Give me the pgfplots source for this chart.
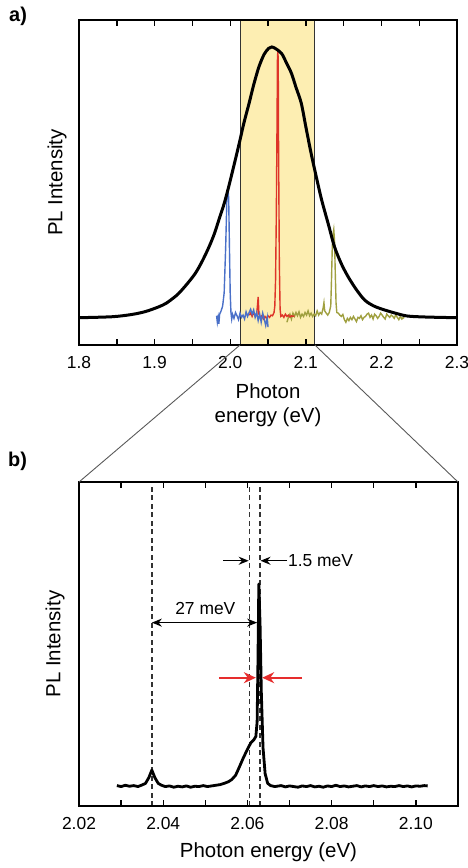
\documentclass[border=0pt]{standalone}
\usepackage{pgfplots}
\pgfplotsset{compat=1.18}
\usepackage{fontspec}
\setmainfont{Liberation Sans}
\usetikzlibrary{arrows.meta}
\definecolor{boxyellow}{RGB}{253,238,178}
\definecolor{specblue}{RGB}{74,112,200}
\definecolor{specred}{RGB}{222,52,40}
\definecolor{specolive}{RGB}{160,160,64}
\definecolor{arrred}{RGB}{230,45,45}
\newcommand{\labfont}{\fontsize{20.5}{24.6}\selectfont}
\newcommand{\tickfont}{\fontsize{17.5}{21}\selectfont}
\begin{document}
\begin{tikzpicture}
\path[use as bounding box] (0bp,0bp) rectangle (468bp,-868bp);
\pgfplotsset{
  myaxis/.style={
    scale only axis, ymin=0, ymax=1, ytick=\empty,
    axis line style={line width=2.4bp}, axis on top,
    tick align=inside, xtick pos=both, xticklabel pos=lower,
    major tick length=6bp, minor tick length=6bp,
    every tick/.style={black, line width=1.4bp},
    minor x tick num=1,
    xticklabel style={font=\tickfont, yshift=-8bp},
    label style={font=\labfont},
    ylabel={PL Intensity},
  }
}
% ---------------- panel a ----------------
\begin{axis}[myaxis, name=a, at={(79bp,-345bp)}, anchor=south west,
  width=378bp, height=325bp, xmin=1.8, xmax=2.3,
  xtick={1.8,1.9,2.0,2.1,2.2,2.3}, xticklabels={1.8,1.9,2.0,2.1,2.2,2.3},
  ylabel style={at={(axis description cs:-0.058,0.5)}, anchor=center},
  xlabel={Photon\\energy (eV)},
  xlabel style={at={(axis description cs:0.5,-0.185)}, anchor=center, align=center},
]
\addplot[fill=boxyellow, draw=black!80, line width=0.8bp] coordinates {(2.013,-0.01) (2.013,1.01) (2.112,1.01) (2.112,-0.01)} -- cycle;
\coordinate (zl) at (axis cs:2.013,0);
\coordinate (zr) at (axis cs:2.112,0);
\addplot[specolive, line width=1.4bp] coordinates {
(2.075,0.070)(2.077,0.085)(2.079,0.095)(2.081,0.080)(2.083,0.098)(2.085,0.088)(2.087,0.100)(2.089,0.090)(2.091,0.102)(2.093,0.085)(2.095,0.095)(2.097,0.088)(2.099,0.100)(2.101,0.092)(2.103,0.105)(2.105,0.090)(2.107,0.098)(2.109,0.088)(2.111,0.095)(2.113,0.090)(2.115,0.105)(2.117,0.092)(2.119,0.100)(2.121,0.095)(2.123,0.115)(2.124,0.130)(2.125,0.105)(2.127,0.098)(2.129,0.092)(2.131,0.100)(2.133,0.120)(2.134,0.200)(2.135,0.300)(2.136,0.340)(2.137,0.355)(2.138,0.320)(2.139,0.220)(2.140,0.130)(2.141,0.100)(2.143,0.098)(2.145,0.092)(2.147,0.088)(2.149,0.094)(2.151,0.078)(2.153,0.070)(2.155,0.082)(2.157,0.075)(2.159,0.085)(2.161,0.078)(2.163,0.088)(2.165,0.080)(2.167,0.072)(2.169,0.085)(2.171,0.082)(2.173,0.090)(2.175,0.078)(2.177,0.085)(2.179,0.088)(2.181,0.095)(2.183,0.098)(2.185,0.085)(2.187,0.092)(2.189,0.080)(2.191,0.095)(2.193,0.090)(2.195,0.082)(2.197,0.088)(2.199,0.098)(2.201,0.092)(2.203,0.085)(2.205,0.080)(2.207,0.095)(2.209,0.090)(2.211,0.085)(2.213,0.092)(2.215,0.088)(2.217,0.082)(2.219,0.093)(2.221,0.085)(2.223,0.078)(2.225,0.088)(2.227,0.080)(2.229,0.085)(2.230,0.082)};
\addplot[specred, line width=1.4bp] coordinates {
(2.025,0.092)(2.027,0.098)(2.029,0.088)(2.031,0.100)(2.033,0.090)(2.035,0.095)(2.036,0.120)(2.037,0.148)(2.038,0.095)(2.040,0.085)(2.042,0.090)(2.044,0.080)(2.046,0.088)(2.048,0.082)(2.050,0.090)(2.052,0.085)(2.054,0.092)(2.056,0.090)(2.058,0.100)(2.059,0.120)(2.060,0.200)(2.061,0.400)(2.062,0.700)(2.0625,0.880)(2.063,0.905)(2.0635,0.880)(2.064,0.600)(2.065,0.250)(2.066,0.110)(2.067,0.088)(2.069,0.092)(2.071,0.085)(2.073,0.095)(2.075,0.088)(2.077,0.092)(2.079,0.086)(2.081,0.090)(2.083,0.088)(2.085,0.090)};
\addplot[specblue, line width=1.4bp] coordinates {
(1.982,0.090)(1.983,0.070)(1.984,0.085)(1.985,0.065)(1.986,0.095)(1.988,0.105)(1.990,0.120)(1.992,0.160)(1.994,0.300)(1.9955,0.440)(1.997,0.487)(1.998,0.450)(1.999,0.300)(2.000,0.160)(2.001,0.100)(2.002,0.080)(2.003,0.095)(2.005,0.082)(2.007,0.100)(2.009,0.090)(2.011,0.078)(2.013,0.098)(2.015,0.085)(2.017,0.092)(2.019,0.080)(2.021,0.102)(2.023,0.088)(2.025,0.100)(2.027,0.110)(2.029,0.095)(2.031,0.108)(2.033,0.085)(2.035,0.100)(2.037,0.075)(2.039,0.095)(2.041,0.070)(2.043,0.098)(2.045,0.080)(2.047,0.060)(2.049,0.085)(2.050,0.055)};
\addplot[black, line width=3bp, smooth] coordinates {
(1.800,0.084)(1.844,0.087)(1.870,0.094)(1.888,0.103)(1.905,0.117)(1.915,0.128)(1.925,0.145)(1.932,0.159)(1.943,0.188)(1.954,0.221)(1.963,0.258)(1.972,0.302)(1.979,0.342)(1.985,0.385)(1.992,0.435)(1.998,0.487)(2.005,0.553)(2.012,0.621)(2.018,0.682)(2.025,0.744)(2.031,0.800)(2.038,0.856)(2.045,0.895)(2.051,0.913)(2.055,0.917)(2.060,0.912)(2.068,0.897)(2.074,0.870)(2.081,0.836)(2.087,0.793)(2.094,0.744)(2.100,0.672)(2.107,0.590)(2.114,0.516)(2.121,0.446)(2.130,0.370)(2.138,0.302)(2.147,0.250)(2.156,0.210)(2.167,0.170)(2.178,0.138)(2.190,0.120)(2.204,0.108)(2.220,0.097)(2.235,0.089)(2.260,0.086)(2.300,0.084)};
\end{axis}
% ---------------- panel b ----------------
\begin{axis}[myaxis, name=b, at={(79bp,-806bp)}, anchor=south west,
  width=379bp, height=324bp, xmin=2.02, xmax=2.11,
  xtick={2.02,2.04,2.06,2.08,2.10}, xticklabels={2.02,2.04,2.06,2.08,2.10},
  ylabel style={at={(axis description cs:-0.063,0.5)}, anchor=center},
  xlabel={Photon energy (eV)},
  xlabel style={at={(axis description cs:0.5,-0.144)}, anchor=center},
]
\addplot[black!80, line width=1.7bp, dash pattern=on 5bp off 3.5bp] coordinates {(2.0373,0) (2.0373,1)};
\addplot[black!80, line width=1.7bp, dash pattern=on 5bp off 3.5bp] coordinates {(2.0605,0) (2.0605,1)};
\addplot[black!80, line width=1.7bp, dash pattern=on 5bp off 3.5bp] coordinates {(2.0629,0) (2.0629,1)};
\addplot[black, line width=2.8bp, line join=round] coordinates {
(2.0290,0.063)(2.0300,0.060)(2.0310,0.064)(2.0320,0.061)(2.0330,0.063)(2.0340,0.060)(2.0350,0.065)(2.0358,0.070)(2.0366,0.088)(2.0373,0.111)(2.0380,0.088)(2.0388,0.070)(2.0396,0.064)(2.0405,0.060)(2.0415,0.062)(2.0425,0.058)(2.0435,0.061)(2.0445,0.059)(2.0455,0.062)(2.0465,0.058)(2.0475,0.061)(2.0485,0.060)(2.0495,0.063)(2.0505,0.060)(2.0515,0.062)(2.0525,0.064)(2.0535,0.066)(2.0545,0.070)(2.0555,0.075)(2.0563,0.082)(2.0572,0.095)(2.0580,0.118)(2.0590,0.148)(2.0600,0.175)(2.0608,0.195)(2.0615,0.204)(2.0620,0.215)(2.0623,0.260)(2.0625,0.450)(2.0627,0.685)(2.0630,0.560)(2.0633,0.350)(2.0637,0.180)(2.0642,0.100)(2.0648,0.070)(2.0655,0.063)(2.0665,0.060)(2.0670,0.061)(2.0680,0.063)(2.0690,0.059)(2.0700,0.062)(2.0710,0.060)(2.0720,0.058)(2.0730,0.062)(2.0740,0.060)(2.0750,0.063)(2.0760,0.059)(2.0770,0.061)(2.0780,0.058)(2.0790,0.062)(2.0800,0.060)(2.0810,0.064)(2.0820,0.060)(2.0830,0.062)(2.0840,0.059)(2.0850,0.061)(2.0860,0.063)(2.0870,0.059)(2.0880,0.062)(2.0890,0.060)(2.0900,0.063)(2.0910,0.060)(2.0920,0.062)(2.0930,0.059)(2.0940,0.061)(2.0950,0.060)(2.0960,0.063)(2.0970,0.060)(2.0980,0.062)(2.0990,0.059)(2.1000,0.062)(2.1010,0.061)(2.1020,0.063)(2.1028,0.062)};
\draw[black, line width=1.4bp, -{Stealth[length=10bp,width=8bp]}] (axis cs:2.0542,0.757) -- (axis cs:2.0603,0.757);
\draw[black, line width=1.4bp, -{Stealth[length=10bp,width=8bp]}] (axis cs:2.0694,0.757) -- (axis cs:2.0631,0.757);
\node[anchor=west, inner sep=0pt, font=\tickfont] at (axis cs:2.0696,0.757) {1.5 meV};
\draw[black, line width=1.4bp, {Stealth[length=10bp,width=8bp]}-{Stealth[length=10bp,width=8bp]}] (axis cs:2.0373,0.566) -- (axis cs:2.0623,0.566);
\node[font=\tickfont] at (axis cs:2.0500,0.610) {27 meV};
\draw[arrred, line width=1.7bp, -{Stealth[length=12bp,width=11bp]}] (axis cs:2.0532,0.396) -- (axis cs:2.0620,0.396);
\draw[arrred, line width=1.7bp, -{Stealth[length=12bp,width=11bp]}] (axis cs:2.0730,0.396) -- (axis cs:2.0635,0.396);
\end{axis}
\draw[black!65, line width=0.9bp] (zl) -- (b.north west);
\draw[black!65, line width=0.9bp] (zr) -- (b.north east);
\node[anchor=base west, inner sep=0pt, font=\bfseries\fontsize{20}{24}\selectfont] at (9bp,-21bp) {a)};
\node[anchor=base west, inner sep=0pt, font=\bfseries\fontsize{20}{24}\selectfont] at (8bp,-466bp) {b)};
\end{tikzpicture}
\end{document}
